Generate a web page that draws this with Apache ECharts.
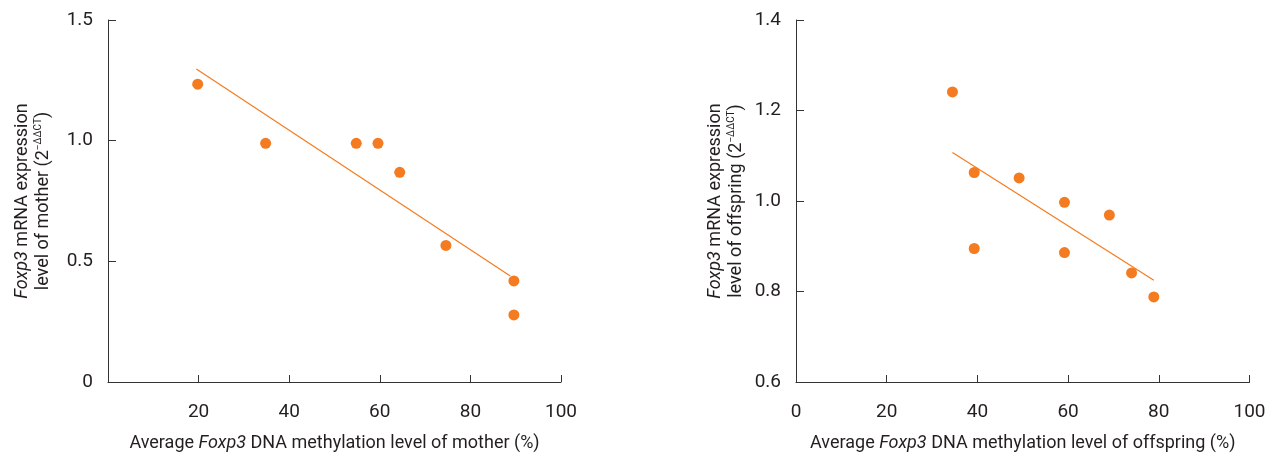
<!DOCTYPE html>
<html>
<head>
<meta charset="utf-8">
<script src="https://cdn.jsdelivr.net/npm/echarts@6/dist/echarts.min.js"></script>
<style>html,body{margin:0;padding:0;background:#fff}#c{width:1270px;height:453px}</style>
</head>
<body>
<div id="c"></div>
<script>
// Mother: methylation (%) vs mRNA expression
const motherX = [19.8, 34.8, 54.8, 59.6, 64.4, 74.6, 89.6, 89.6];
const motherY = [1.234, 0.989, 0.989, 0.989, 0.869, 0.566, 0.419, 0.278];
const motherFitX = [19.5, 88.8];
const motherFitY = [1.297, 0.439];
// Offspring
const offX = [34.5, 39.3, 49.2, 59.2, 69.1, 39.3, 59.2, 74.0, 78.9];
const offY = [1.241, 1.063, 1.051, 0.997, 0.969, 0.895, 0.886, 0.841, 0.788];
const offFitX = [34.5, 78.9];
const offFitY = [1.107, 0.825];
// Axis ticks
const xTicks = [0, 20, 40, 60, 80, 100];
const motherYTicks = [0, 0.5, 1.0, 1.5];
const offYTicks = [0.6, 0.8, 1.0, 1.2, 1.4];

const FONT = 'Roboto, "Noto Sans", sans-serif';
const TXT = '#231f20';
const ORANGE = '#f47b20';

function pairs(xs, ys) { return xs.map((x, i) => [x, ys[i]]); }

const rich = {
  i: { fontStyle: 'italic', fontFamily: FONT, fontSize: 18, color: TXT },
  n: { fontFamily: FONT, fontSize: 18, color: TXT },
  sup: { fontFamily: FONT, fontSize: 10, color: TXT, verticalAlign: 'top', padding: [0, 0, 8, 0] }
};

function xAxis(idx, showMin, who) {
  return {
    type: 'value', gridIndex: idx, min: xTicks[0], max: xTicks[xTicks.length - 1], interval: 20,
    splitLine: { show: false },
    axisLine: { show: true, lineStyle: { color: '#333', width: 1 } },
    axisTick: { show: true, inside: true, length: 7, lineStyle: { color: '#333' } },
    axisLabel: { showMinLabel: showMin, margin: 21, fontFamily: FONT, fontSize: 19, color: TXT },
    name: '{n|Average }{i|Foxp3}{n| DNA methylation level of ' + who + ' (%)}',
    nameLocation: 'middle', nameGap: 52,
    nameTextStyle: { rich: rich, fontFamily: FONT, fontSize: 18, color: TXT }
  };
}
function yAxis(idx, ticks, who, fmt, gap) {
  return {
    type: 'value', gridIndex: idx, min: ticks[0], max: ticks[ticks.length - 1],
    interval: +(ticks[1] - ticks[0]).toFixed(2),
    splitLine: { show: false },
    axisLine: { show: true, lineStyle: { color: '#333', width: 1 } },
    axisTick: { show: true, inside: true, length: 8, lineStyle: { color: '#333' } },
    axisLabel: { margin: 15, fontFamily: FONT, fontSize: 19, color: TXT, formatter: fmt },
    name: '{i|Foxp3}{n| mRNA expression}\n{n|level of ' + who + ' (2}{sup|−ΔΔCT}{n|)}',
    nameLocation: 'middle', nameRotate: 90, nameGap: gap,
    nameTextStyle: { rich: rich, fontFamily: FONT, fontSize: 18, color: TXT, lineHeight: 21, align: 'center' }
  };
}

const chart = echarts.init(document.getElementById('c'), null, { renderer: 'canvas' });
chart.setOption({
  animation: false,
  backgroundColor: '#fff',
  grid: [
    { left: 108, right: 709, top: 20, bottom: 71, containLabel: false, outerBoundsMode: 'none' },
    { left: 796, right: 20.5, top: 20, bottom: 71, containLabel: false, outerBoundsMode: 'none' }
  ],
  xAxis: [xAxis(0, false, 'mother'), xAxis(1, true, 'offspring')],
  yAxis: [
    yAxis(0, motherYTicks, 'mother', v => v === 0 ? '0' : v.toFixed(1), 54),
    yAxis(1, offYTicks, 'offspring', v => v.toFixed(1), 49)
  ],
  series: [
    { type: 'line', xAxisIndex: 0, yAxisIndex: 0, data: pairs(motherFitX, motherFitY), showSymbol: false, symbol: 'none',
      lineStyle: { color: ORANGE, width: 1.2 }, z: 2 },
    { type: 'scatter', xAxisIndex: 0, yAxisIndex: 0, data: pairs(motherX, motherY), symbolSize: 11,
      itemStyle: { color: ORANGE, opacity: 1 }, z: 3 },
    { type: 'line', xAxisIndex: 1, yAxisIndex: 1, data: pairs(offFitX, offFitY), showSymbol: false, symbol: 'none',
      lineStyle: { color: ORANGE, width: 1.2 }, z: 2 },
    { type: 'scatter', xAxisIndex: 1, yAxisIndex: 1, data: pairs(offX, offY), symbolSize: 11,
      itemStyle: { color: ORANGE, opacity: 1 }, z: 3 }
  ]
});
</script>
</body>
</html>
